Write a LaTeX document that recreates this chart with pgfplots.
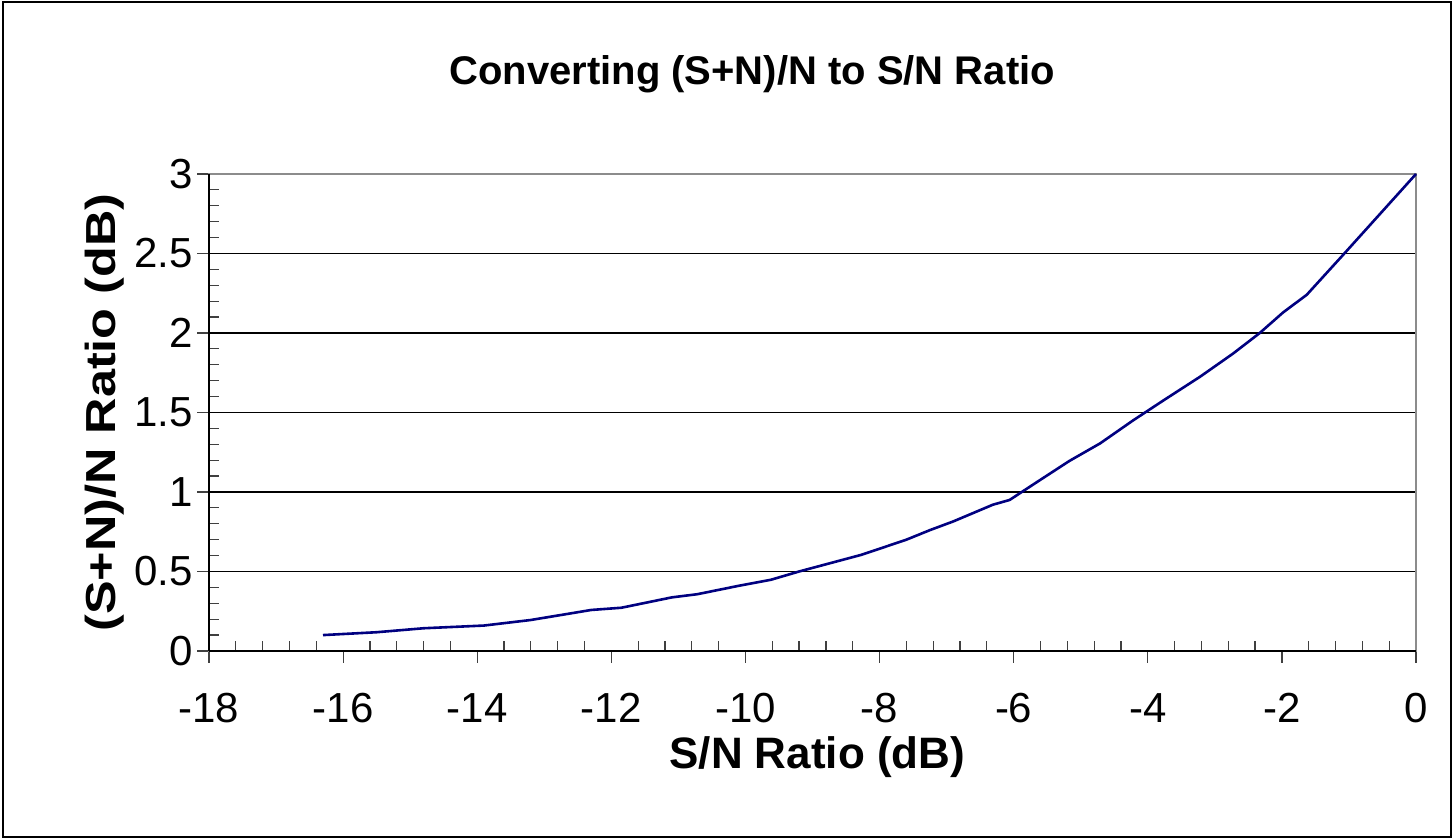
\documentclass[border=0pt]{standalone}
\usepackage{pgfplots}
\pgfplotsset{compat=1.18}
\usepackage{fontspec}
\setmainfont{Liberation Sans}
\definecolor{curve}{RGB}{0,0,128}
\begin{document}
\begin{tikzpicture}
\useasboundingbox (0,0) rectangle (727pt,419pt);
\draw[black, line width=0.8pt] (1.5pt,0.5pt) rectangle (725.5pt,418pt);
\begin{axis}[
  at={(104.5pt,93.5pt)}, anchor=south west,
  scale only axis, width=603.5pt, height=238.5pt,
  xmin=-18, xmax=0, ymin=0, ymax=3,
  xtick={-18,-16,...,0},
  xticklabels={-18,-16,-14,-12,-10,-8,-6,-4,-2,0},
  ytick={0,0.5,1,1.5,2,2.5,3},
  yticklabels={0,0.5,1,1.5,2,2.5,3},
  minor x tick num=4, minor y tick num=4,
  xtick pos=bottom, ytick pos=left,
  tick align=inside,
  major tick length=-6pt, minor tick length=5pt,
  tick style={black!75, line width=0.6pt},
  ymajorgrids, major grid style={black, line width=0.6pt},
  axis line style={black!45, line width=1.2pt},
  xticklabel style={font=\fontsize{21}{25}\selectfont, anchor=base, inner sep=0pt, yshift=-36pt},
  yticklabel style={font=\fontsize{21}{25}\selectfont, anchor=east, inner sep=0pt, xshift=-8pt},
  title={Converting (S+N)/N to S/N Ratio},
  xlabel={S/N Ratio (dB)},
  ylabel={\scalebox{1.2}[1]{(S+N)/N Ratio (dB)}},
  every axis title/.style={at={(axis description cs:0.45,1.21)}, anchor=center, font=\bfseries\fontsize{20}{24}\selectfont},
  every axis x label/.style={at={(axis description cs:0.504,-0.222)}, anchor=center, inner sep=0pt, font=\bfseries\fontsize{22}{26}\selectfont},
  every axis y label/.style={at={(axis description cs:-0.0862,0.5)}, anchor=center, rotate=90, font=\bfseries\fontsize{21}{25}\selectfont},
  clip=false,
]
\addplot[curve, line width=1.3pt] coordinates {
(-16.3,0.10) (-15.5,0.118) (-14.8,0.143) (-13.9,0.16) (-13.2,0.195)
(-12.3,0.258) (-11.85,0.272) (-11.1,0.337) (-10.72,0.357) (-10.1,0.41)
(-9.62,0.448) (-9.2,0.50) (-8.27,0.605) (-7.6,0.70) (-7.25,0.76)
(-6.9,0.815) (-6.31,0.92) (-6.06,0.95) (-5.6,1.077) (-5.17,1.195)
(-4.71,1.306) (-4.22,1.45) (-3.77,1.575) (-3.22,1.725) (-2.73,1.87)
(-2.33,2.0) (-1.98,2.13) (-1.63,2.24) (-1.09,2.49) (0,3.0)
};
\draw[black, line width=1.2pt] (rel axis cs:0,0) -- (rel axis cs:0,1);
\draw[black, line width=1.2pt] (rel axis cs:0,0) -- (rel axis cs:1,0);
\end{axis}
\end{tikzpicture}
\end{document}
